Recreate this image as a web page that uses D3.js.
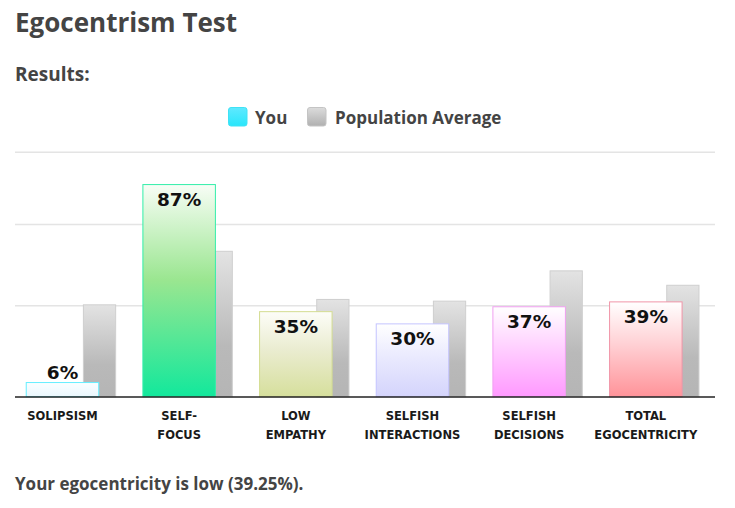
<!DOCTYPE html>
<html>
<head>
<meta charset="utf-8">
<script src="https://cdn.jsdelivr.net/npm/d3@7/dist/d3.min.js"></script>
<style>
  html, body { margin: 0; padding: 0; background: #fff; }
  svg { display: block; }
</style>
</head>
<body>
<svg id="chart" width="735" height="508"></svg>
<script>
// ---- data ----
const categories = ["SOLIPSISM", "SELF-\nFOCUS", "LOW\nEMPATHY", "SELFISH\nINTERACTIONS", "SELFISH\nDECISIONS", "TOTAL\nEGOCENTRICITY"];
const youValues = [6, 87, 35, 30, 37, 39];
const populationValues = [37.8, 59.7, 40, 39.3, 51.7, 45.8];
const gridValues = [37.2, 70.5, 100];
const legendLabels = ["You", "Population Average"];
const youTopColors = ["#fbfeff", "#f8fdf6", "#fdfdf8", "#ffffff", "#ffffff", "#ffffff"];
const youMidColors = ["#f3fbff", "#9ae690", "#eaecd0", "#eaeafe", "#ffd0ff", "#ffd0d4"];
const youBottomColors = ["#e9f7fd", "#12e89c", "#d6df9c", "#d4d4fc", "#ff99ff", "#ff9399"];
const youStrokeColors = ["#66eeff", "#33eeaa", "#d4dc90", "#c4c4ff", "#f0a0f0", "#f095a8"];

const svg = d3.select("#chart");
const defs = svg.append("defs");

const plotLeft = 15, plotRight = 715, plotTop = 152.3, plotBase = 396.7;
const x = d3.scaleBand().domain(d3.range(categories.length)).range([plotLeft, plotRight]).padding(0);
const y = d3.scaleLinear().domain([0, 100]).range([plotBase, plotTop]);
const B = x.bandwidth();

// gradients
categories.forEach((c, i) => {
  const g = defs.append("linearGradient").attr("id", "you" + i)
    .attr("x1", 0).attr("y1", 0).attr("x2", 0).attr("y2", 1);
  g.append("stop").attr("offset", "0%").attr("stop-color", youTopColors[i]);
  g.append("stop").attr("offset", "45%").attr("stop-color", youMidColors[i]);
  g.append("stop").attr("offset", "100%").attr("stop-color", youBottomColors[i]);
});
const pg = defs.append("linearGradient").attr("id", "pop").attr("x1", 0).attr("y1", 0).attr("x2", 0).attr("y2", 1);
pg.append("stop").attr("offset", "0%").attr("stop-color", "#e3e3e3");
pg.append("stop").attr("offset", "65%").attr("stop-color", "#b9b9b9");
pg.append("stop").attr("offset", "100%").attr("stop-color", "#b5b5b5");
const lg = defs.append("linearGradient").attr("id", "legYou").attr("x1", 0).attr("y1", 0).attr("x2", 0).attr("y2", 1);
lg.append("stop").attr("offset", "0%").attr("stop-color", "#5fe9ff");
lg.append("stop").attr("offset", "100%").attr("stop-color", "#29e6fb");
const lg2 = defs.append("linearGradient").attr("id", "legPop").attr("x1", 0).attr("y1", 0).attr("x2", 0).attr("y2", 1);
lg2.append("stop").attr("offset", "0%").attr("stop-color", "#dcdcdc");
lg2.append("stop").attr("offset", "100%").attr("stop-color", "#b0b0b0");

const textColor = "#444";
const sans = "'Open Sans', 'Noto Sans', sans-serif";

// title texts
svg.append("text").attr("x", 15).attr("y", 32).text("Egocentrism Test")
  .attr("font-family", sans).attr("font-weight", 700).attr("font-size", 26).attr("fill", textColor);
svg.append("text").attr("x", 15).attr("y", 81).text("Results:")
  .attr("font-family", sans).attr("font-weight", 700).attr("font-size", 19).attr("fill", textColor);

// legend
const legend = svg.append("g");
legend.append("rect").attr("x", 228.5).attr("y", 107.5).attr("width", 18.5).attr("height", 18.5).attr("rx", 2.5)
  .attr("fill", "url(#legYou)").attr("stroke", "#40e2f5").attr("stroke-width", 1);
legend.append("text").attr("x", 255).attr("y", 124).text(legendLabels[0])
  .attr("font-family", sans).attr("font-weight", 700).attr("font-size", 17).attr("fill", textColor);
legend.append("rect").attr("x", 307.5).attr("y", 107.5).attr("width", 18.5).attr("height", 18.5).attr("rx", 2.5)
  .attr("fill", "url(#legPop)").attr("stroke", "#c4c4c4").attr("stroke-width", 1);
legend.append("text").attr("x", 335).attr("y", 124).text(legendLabels[1])
  .attr("font-family", sans).attr("font-weight", 700).attr("font-size", 17).attr("fill", textColor);

// grid
svg.append("g").selectAll("line").data(gridValues).join("line")
  .attr("x1", plotLeft).attr("x2", plotRight)
  .attr("y1", d => y(d)).attr("y2", d => y(d))
  .attr("stroke", "#e4e4e4").attr("stroke-width", 1.5);

// population bars
svg.append("g").selectAll("rect").data(populationValues).join("rect")
  .attr("x", (d, i) => x(i) + B * 0.582 + 0.5)
  .attr("y", d => y(d) + 0.5)
  .attr("width", B * 0.285 - 1)
  .attr("height", d => plotBase - y(d) - 0.5)
  .attr("fill", "url(#pop)").attr("stroke", "#cfcfcf").attr("stroke-width", 1);

// you bars
svg.append("g").selectAll("rect").data(youValues).join("rect")
  .attr("x", (d, i) => x(i) + B * 0.092 + 0.5)
  .attr("y", d => y(d) + 0.5)
  .attr("width", B * 0.63 - 1)
  .attr("height", d => plotBase - y(d) - 0.5)
  .attr("fill", (d, i) => `url(#you${i})`)
  .attr("stroke", (d, i) => youStrokeColors[i]).attr("stroke-width", 1);

// value labels
svg.append("g").selectAll("text").data(youValues).join("text")
  .attr("x", (d, i) => x(i) + B * 0.092 + B * 0.315)
  .attr("y", d => (plotBase - y(d) > 30 ? y(d) + 22 : y(d) - 3.5))
  .attr("text-anchor", "middle")
  .attr("font-family", "'DejaVu Sans', sans-serif").attr("font-weight", 700).attr("font-size", 18.5)
  .attr("fill", "#111")
  .text(d => d + "%");

// baseline axis
svg.append("line").attr("x1", plotLeft).attr("x2", plotRight).attr("y1", plotBase + 0.3).attr("y2", plotBase + 0.3)
  .attr("stroke", "#222").attr("stroke-width", 1.6);

// category labels
const catG = svg.append("g").selectAll("text").data(categories).join("text")
  .attr("x", (d, i) => x(i) + B * 0.092 + B * 0.315)
  .attr("y", 420)
  .attr("text-anchor", "middle")
  .attr("font-family", "'Liberation Sans Narrow', 'DejaVu Sans Condensed', 'Arial Narrow', sans-serif")
  .attr("font-weight", 700).attr("font-size", 12.8).attr("fill", "#1a1a1a");
catG.each(function(d) {
  const t = d3.select(this);
  d.split("\n").forEach((line, k) => {
    t.append("tspan").attr("x", t.attr("x")).attr("dy", k === 0 ? 0 : 19).text(line);
  });
});

// footer
svg.append("text").attr("x", 15).attr("y", 490).text("Your egocentricity is low (39.25%).")
  .attr("font-family", sans).attr("font-weight", 700).attr("font-size", 17).attr("fill", textColor);
</script>
</body>
</html>
